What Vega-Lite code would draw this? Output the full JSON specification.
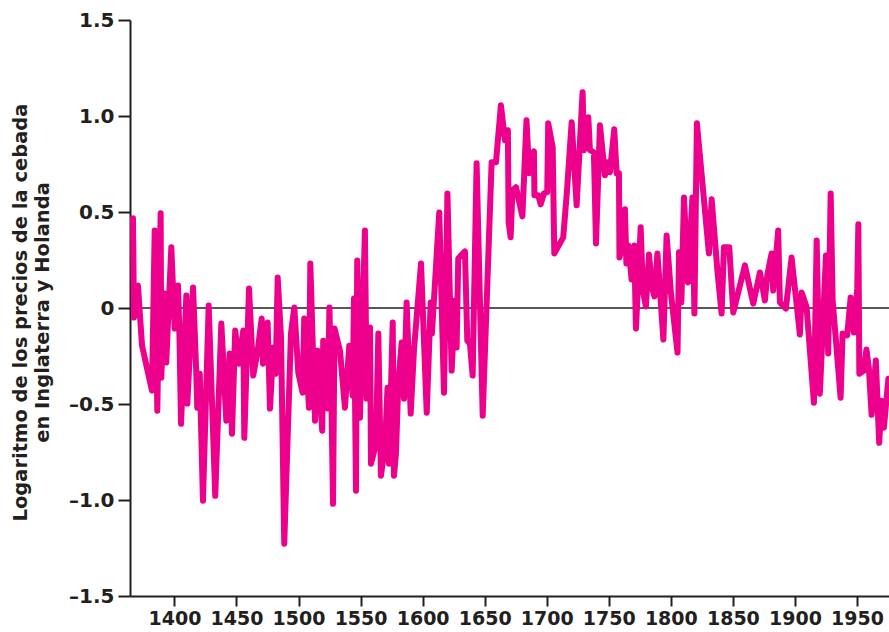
{
  "$schema": "https://vega.github.io/schema/vega-lite/v6.json",
  "autosize": {"type": "none"},
  "width": 759,
  "height": 576,
  "padding": {"left": 130, "top": 20, "right": 0, "bottom": 36},
  "background": "white",
  "config": {
    "view": {"stroke": null},
    "font": "DejaVu Sans",
    "axis": {
      "labelFont": "DejaVu Sans",
      "labelFontWeight": "bold",
      "labelFontSize": 20,
      "labelColor": "#231f20",
      "domainColor": "#231f20",
      "domainWidth": 2,
      "tickColor": "#231f20",
      "tickWidth": 2,
      "grid": false
    }
  },
  "datasets": {
    "barley": [
      {"year": 1366.6, "v": 0.467}, {"year": 1367.4, "v": -0.05}, {"year": 1370.6, "v": 0.117}, {"year": 1373.9, "v": -0.196},
      {"year": 1381.9, "v": -0.43}, {"year": 1384.1, "v": 0.404}, {"year": 1386.2, "v": -0.535}, {"year": 1388.9, "v": 0.493},
      {"year": 1389.4, "v": -0.363}, {"year": 1392.2, "v": 0.076}, {"year": 1393.4, "v": -0.284}, {"year": 1397.5, "v": 0.316},
      {"year": 1400.2, "v": -0.107}, {"year": 1402.9, "v": 0.117}, {"year": 1404.1, "v": -0.159}, {"year": 1405.3, "v": -0.603},
      {"year": 1409.6, "v": 0.065}, {"year": 1410.4, "v": -0.498}, {"year": 1415.0, "v": 0.107}, {"year": 1417.6, "v": -0.336},
      {"year": 1418.4, "v": -0.519}, {"year": 1420.4, "v": -0.342}, {"year": 1423.0, "v": -1.004}, {"year": 1427.6, "v": 0.013},
      {"year": 1432.9, "v": -0.978}, {"year": 1437.8, "v": -0.081}, {"year": 1441.8, "v": -0.587}, {"year": 1444.5, "v": -0.237},
      {"year": 1446.4, "v": -0.655}, {"year": 1449.0, "v": -0.117}, {"year": 1452.0, "v": -0.29}, {"year": 1455.5, "v": -0.117},
      {"year": 1456.3, "v": -0.676}, {"year": 1460.1, "v": 0.102}, {"year": 1463.5, "v": -0.352}, {"year": 1467.1, "v": -0.222},
      {"year": 1470.3, "v": -0.055}, {"year": 1471.4, "v": -0.29}, {"year": 1475.1, "v": -0.076}, {"year": 1477.0, "v": -0.524},
      {"year": 1479.7, "v": -0.206}, {"year": 1481.6, "v": -0.342}, {"year": 1483.2, "v": 0.159}, {"year": 1485.9, "v": -0.154},
      {"year": 1488.5, "v": -1.228}, {"year": 1493.9, "v": -0.133}, {"year": 1496.6, "v": 0.003}, {"year": 1499.8, "v": -0.336},
      {"year": 1503.3, "v": -0.441}, {"year": 1504.6, "v": -0.055}, {"year": 1508.4, "v": -0.519}, {"year": 1509.5, "v": 0.232},
      {"year": 1513.3, "v": -0.587}, {"year": 1515.4, "v": -0.222}, {"year": 1519.1, "v": -0.639}, {"year": 1519.9, "v": -0.17},
      {"year": 1523.5, "v": -0.524}, {"year": 1524.9, "v": 0.003}, {"year": 1526.5, "v": -0.483}, {"year": 1527.8, "v": -1.02},
      {"year": 1529.0, "v": -0.107}, {"year": 1533.4, "v": -0.222}, {"year": 1537.4, "v": -0.519}, {"year": 1540.9, "v": -0.196},
      {"year": 1543.6, "v": -0.456}, {"year": 1544.7, "v": 0.05}, {"year": 1546.3, "v": -0.952}, {"year": 1547.3, "v": 0.248},
      {"year": 1549.5, "v": -0.571}, {"year": 1553.5, "v": 0.404}, {"year": 1554.9, "v": -0.472}, {"year": 1557.6, "v": -0.102},
      {"year": 1558.4, "v": -0.811}, {"year": 1562.4, "v": -0.707}, {"year": 1564.3, "v": -0.133}, {"year": 1566.4, "v": -0.874},
      {"year": 1569.7, "v": -0.717}, {"year": 1571.7, "v": -0.415}, {"year": 1572.9, "v": -0.811}, {"year": 1575.9, "v": -0.076},
      {"year": 1576.9, "v": -0.874}, {"year": 1578.5, "v": -0.759}, {"year": 1580.4, "v": -0.394}, {"year": 1583.1, "v": -0.18},
      {"year": 1585.0, "v": -0.472}, {"year": 1587.1, "v": 0.029}, {"year": 1590.4, "v": -0.55}, {"year": 1593.0, "v": -0.222},
      {"year": 1598.7, "v": 0.232}, {"year": 1603.3, "v": -0.545}, {"year": 1606.5, "v": 0.029}, {"year": 1607.5, "v": -0.133},
      {"year": 1613.4, "v": 0.498}, {"year": 1617.2, "v": -0.441}, {"year": 1620.0, "v": 0.597}, {"year": 1623.4, "v": -0.326},
      {"year": 1626.1, "v": 0.039}, {"year": 1627.4, "v": -0.206}, {"year": 1628.7, "v": 0.258}, {"year": 1634.1, "v": 0.295},
      {"year": 1636.0, "v": -0.17}, {"year": 1638.1, "v": -0.185}, {"year": 1640.3, "v": -0.352}, {"year": 1643.5, "v": 0.754},
      {"year": 1648.4, "v": -0.561}, {"year": 1655.6, "v": 0.759}, {"year": 1659.1, "v": 0.759}, {"year": 1663.1, "v": 1.056},
      {"year": 1666.3, "v": 0.874}, {"year": 1668.7, "v": 0.926}, {"year": 1669.3, "v": 0.446}, {"year": 1670.9, "v": 0.368},
      {"year": 1672.4, "v": 0.613}, {"year": 1675.2, "v": 0.629}, {"year": 1680.4, "v": 0.477}, {"year": 1683.7, "v": 0.978},
      {"year": 1685.9, "v": 0.702}, {"year": 1689.7, "v": 0.816}, {"year": 1690.1, "v": 0.587}, {"year": 1693.2, "v": 0.587},
      {"year": 1695.1, "v": 0.54}, {"year": 1697.8, "v": 0.597}, {"year": 1700.4, "v": 0.603}, {"year": 1701.2, "v": 0.962},
      {"year": 1704.8, "v": 0.837}, {"year": 1706.1, "v": 0.284}, {"year": 1713.3, "v": 0.368}, {"year": 1716.3, "v": 0.608},
      {"year": 1720.1, "v": 0.968}, {"year": 1724.1, "v": 0.535}, {"year": 1728.9, "v": 1.124}, {"year": 1730.0, "v": 0.822},
      {"year": 1733.5, "v": 0.994}, {"year": 1734.8, "v": 0.822}, {"year": 1738.0, "v": 0.811}, {"year": 1739.7, "v": 0.336},
      {"year": 1742.9, "v": 0.952}, {"year": 1746.9, "v": 0.691}, {"year": 1748.9, "v": 0.759}, {"year": 1750.9, "v": 0.707},
      {"year": 1754.4, "v": 0.931}, {"year": 1756.3, "v": 0.702}, {"year": 1758.2, "v": 0.702}, {"year": 1758.6, "v": 0.263},
      {"year": 1760.4, "v": 0.31}, {"year": 1763.0, "v": 0.514}, {"year": 1764.2, "v": 0.232}, {"year": 1765.7, "v": 0.326},
      {"year": 1768.4, "v": 0.149}, {"year": 1770.5, "v": 0.326}, {"year": 1771.9, "v": -0.107}, {"year": 1775.7, "v": 0.42},
      {"year": 1777.5, "v": 0.091}, {"year": 1779.9, "v": 0.008}, {"year": 1782.4, "v": 0.279}, {"year": 1784.8, "v": 0.107},
      {"year": 1786.8, "v": 0.06}, {"year": 1789.2, "v": 0.284}, {"year": 1794.0, "v": -0.164}, {"year": 1796.6, "v": 0.378},
      {"year": 1800.1, "v": 0.076}, {"year": 1805.4, "v": -0.232}, {"year": 1806.6, "v": 0.29}, {"year": 1808.5, "v": 0.029},
      {"year": 1810.6, "v": 0.576}, {"year": 1813.8, "v": 0.133}, {"year": 1817.4, "v": 0.576}, {"year": 1819.0, "v": -0.029},
      {"year": 1821.0, "v": 0.962}, {"year": 1830.7, "v": 0.284}, {"year": 1832.9, "v": 0.566}, {"year": 1837.5, "v": 0.196},
      {"year": 1840.9, "v": -0.029}, {"year": 1842.8, "v": 0.316}, {"year": 1847.1, "v": 0.316}, {"year": 1850.3, "v": -0.023},
      {"year": 1859.7, "v": 0.222}, {"year": 1866.4, "v": 0.023}, {"year": 1871.8, "v": 0.185}, {"year": 1875.8, "v": 0.039},
      {"year": 1877.7, "v": 0.17}, {"year": 1881.2, "v": 0.284}, {"year": 1882.5, "v": 0.091}, {"year": 1886.5, "v": 0.404},
      {"year": 1887.9, "v": 0.029}, {"year": 1892.7, "v": -0.003}, {"year": 1897.3, "v": 0.263}, {"year": 1904.0, "v": -0.138},
      {"year": 1905.4, "v": 0.081}, {"year": 1909.4, "v": 0.005}, {"year": 1915.3, "v": -0.493}, {"year": 1917.5, "v": 0.352},
      {"year": 1920.1, "v": -0.446}, {"year": 1925.0, "v": 0.274}, {"year": 1926.8, "v": -0.237}, {"year": 1928.8, "v": 0.597},
      {"year": 1930.4, "v": 0.039}, {"year": 1936.8, "v": -0.467}, {"year": 1938.4, "v": -0.133}, {"year": 1942.1, "v": -0.143},
      {"year": 1944.9, "v": 0.055}, {"year": 1947.5, "v": -0.128}, {"year": 1950.2, "v": 0.102}, {"year": 1951.1, "v": 0.436},
      {"year": 1951.9, "v": -0.342}, {"year": 1955.6, "v": -0.326}, {"year": 1957.6, "v": -0.216}, {"year": 1959.6, "v": -0.316},
      {"year": 1961.8, "v": -0.556}, {"year": 1965.2, "v": -0.274}, {"year": 1967.9, "v": -0.702}, {"year": 1969.8, "v": -0.483},
      {"year": 1971.7, "v": -0.623}, {"year": 1975.3, "v": -0.368}
    ]
  },
  "layer": [
    {
      "data": {"values": [{"zero": 0}]},
      "mark": {"type": "rule", "color": "#231f20", "strokeWidth": 1.5},
      "encoding": {
        "y": {"field": "zero", "type": "quantitative", "scale": {"domain": [-1.5, 1.5]}}
      }
    },
    {
      "data": {"name": "barley"},
      "mark": {"type": "line", "color": "#ec008c", "strokeWidth": 6, "strokeJoin": "round", "strokeCap": "round", "clip": true},
      "encoding": {
        "x": {
          "field": "year",
          "type": "quantitative",
          "scale": {"domain": [1364.2, 1975.8], "nice": false, "zero": false},
          "axis": {
            "values": [1400, 1450, 1500, 1550, 1600, 1650, 1700, 1750, 1800, 1850, 1900, 1950],
            "format": "d",
            "title": null,
            "tickSize": 10,
            "labelPadding": 3,
            "labelFontSize": 19,
            "labelFlush": false,
            "labelOverlap": false
          }
        },
        "y": {
          "field": "v",
          "type": "quantitative",
          "scale": {"domain": [-1.5, 1.5], "nice": false},
          "axis": {
            "values": [-1.5, -1, -0.5, 0, 0.5, 1, 1.5],
            "labelExpr": "datum.value == 0 ? '0' : (datum.value < 0 ? '–' : '') + format(abs(datum.value), '.1f')",
            "tickSize": 12,
            "labelPadding": 4,
            "title": ["Logaritmo de los precios de la cebada", "en Inglaterra y Holanda"],
            "titleFont": "DejaVu Sans",
            "titleFontWeight": "bold",
            "titleFontSize": 19.5,
            "titleColor": "#231f20",
            "titleAngle": -90,
            "titleX": -119,
            "titleY": 292,
            "titleAlign": "center",
            "titleBaseline": "top",
            "titleLineHeight": 22
          }
        }
      }
    }
  ]
}
